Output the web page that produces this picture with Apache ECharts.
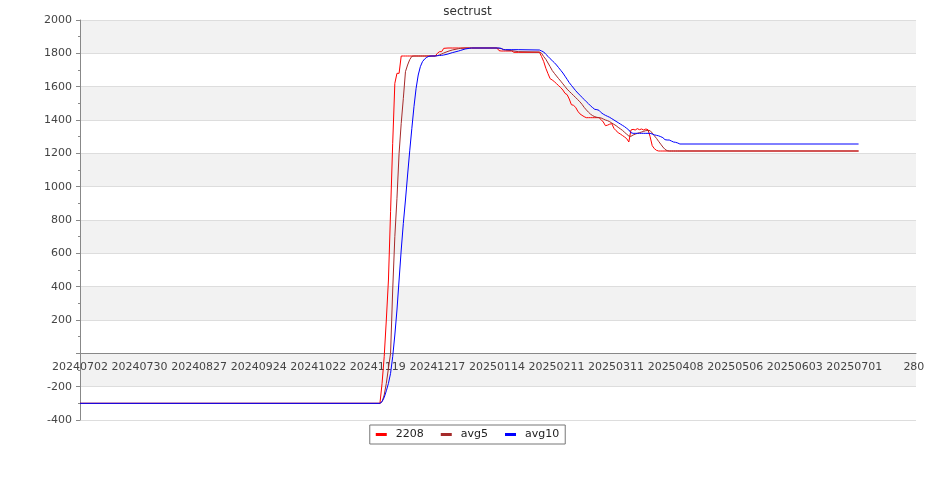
<!DOCTYPE html>
<html>
<head>
<meta charset="utf-8">
<script src="https://cdn.jsdelivr.net/npm/echarts@6/dist/echarts.min.js"></script>
<style>
html,body{margin:0;padding:0;background:#fff;}
#chart{width:935px;height:500px;}
</style>
</head>
<body>
<div id="chart"></div>
<script>
var title = 'sectrust';
var seriesNames = ['2208', 'avg5', 'avg10'];
var seriesColors = ['#ff0000', '#a52a2a', '#0000ff'];
var startDate = '20240702';
var xTickLabels = ['20240702','20240730','20240827','20240924','20241022','20241119','20241217','20250114','20250211','20250311','20250408','20250506','20250603','20250701','280'];

var dates = [
'20240702',
'20241120','20241121','20241122','20241123','20241124','20241125','20241126','20241127','20241128','20241129','20241130',
'20241201','20241202','20241203','20241204','20241205','20241206','20241207','20241208','20241209','20241210','20241211','20241212','20241213','20241214',
'20241216','20241217','20241218','20241219','20241220','20241222','20241224','20241227','20241228','20241230',
'20250101','20250102','20250114','20250115','20250116','20250117','20250118','20250121','20250122','20250124','20250203',
'20250204','20250205','20250206','20250207','20250208','20250209','20250210','20250211','20250212','20250213','20250214','20250215','20250216','20250217','20250218','20250219','20250220','20250221','20250222','20250223','20250224','20250225','20250226','20250227','20250228',
'20250301','20250302','20250303','20250304','20250305','20250306','20250307','20250308','20250309','20250310','20250311','20250312','20250313','20250314','20250315','20250316','20250317','20250318','20250319','20250320','20250321','20250322','20250323','20250324','20250325','20250326','20250327','20250328','20250329','20250330','20250331',
'20250401','20250402','20250403','20250404','20250405','20250406','20250407','20250408','20250409','20250410','20250411',
'20250703'
];

var values2208 = [
-300,
-300,-180,-20,200,440,850,1260,1620,1680,1680,1784,
1784,1784,1784,1784,1784,1784,1784,1784,1784,1784,1784,1784,1784,1784,
1784,1800,1810,1810,1830,1832,1832,1832,1832,1832,
1832,1832,1832,1816,1814,1814,1814,1814,1806,1806,1806,
1780,1750,1710,1678,1648,1640,1630,1618,1606,1594,1580,1560,1552,1526,1492,1488,1476,1453,1437,1428,1420,1414,1414,1414,1414,
1414,1414,1414,1402,1388,1366,1369,1375,1378,1350,1336,1324,1316,1307,1298,1288,1268,1340,1344,1340,1348,1342,1346,1340,1346,1342,1300,1246,1228,1218,1214,
1214,1214,1214,1214,1214,1214,1214,1214,1214,1214,1214,
1214
];

var valuesAvg5 = [
-300,
-300,-290,-250,-180,-90,0,380,700,930,1200,1380,
1530,1690,1730,1762,1782,1784,1784,1784,1784,1784,1784,1784,1784,1784,
1784,1786,1791,1796,1802,1812,1820,1828,1830,1832,
1832,1832,1832,1830,1828,1824,1820,1816,1814,1810,1808,
1800,1780,1764,1742,1720,1697,1680,1664,1648,1633,1617,1601,1585,1572,1560,1547,1535,1522,1509,1494,1476,1461,1447,1435,1426,
1420,1416,1414,1412,1406,1400,1396,1390,1382,1374,1366,1356,1347,1338,1326,1315,1304,1302,1310,1315,1320,1324,1328,1332,1336,1337,1336,1322,1305,1290,1272,
1255,1238,1224,1216,1214,1214,1214,1214,1214,1214,1214,
1214
];

var valuesAvg10 = [
-300,
-300,-290,-265,-225,-180,-120,-20,110,260,440,620,
780,920,1070,1215,1350,1480,1590,1670,1720,1750,1766,1776,1782,1784,
1784,1786,1787,1788,1790,1796,1804,1814,1818,1826,
1830,1832,1832,1832,1830,1822,1822,1822,1822,1822,1820,
1814,1808,1794,1782,1768,1756,1744,1730,1714,1698,1682,1663,1644,1624,1608,1592,1576,1562,1549,1536,1523,1510,1498,1485,1474,
1464,1462,1458,1444,1435,1428,1422,1416,1408,1400,1392,1384,1376,1368,1360,1350,1340,1324,1320,1320,1320,1320,1320,1320,1320,1320,1320,1316,1311,1308,1305,
1300,1294,1282,1280,1280,1274,1268,1266,1262,1256,1256,
1256
];

function dayIndex(s) {
  var t = Date.UTC(+s.slice(0,4), +s.slice(4,6) - 1, +s.slice(6,8));
  var t0 = Date.UTC(+startDate.slice(0,4), +startDate.slice(4,6) - 1, +startDate.slice(6,8));
  return Math.round((t - t0) / 86400000);
}

function pairs(vals) {
  return dates.map(function (d, i) { return [dayIndex(d), vals[i]]; });
}

var allValues = [values2208, valuesAvg5, valuesAvg10];
var font = 'DejaVu Sans';
var yMin = -400, yMax = 2000;
var gridTop = 20, gridBottom = 80, chartH = 500;
var plotH = chartH - gridTop - gridBottom;
var zeroOffset = -plotH * (0 - yMin) / (yMax - yMin);

var chart = echarts.init(document.getElementById('chart'), null, {renderer: 'canvas'});
chart.setOption({
  animation: false,
  backgroundColor: '#ffffff',
  title: {
    text: title, left: 'center', top: 1,
    textStyle: {fontFamily: font, fontSize: 12, fontWeight: 'normal', color: '#333'}
  },
  legend: {
    data: seriesNames,
    left: 'center', top: 425,
    icon: 'rect', itemWidth: 11, itemHeight: 3, itemGap: 17,
    padding: [4, 6, 4, 6],
    borderColor: '#777', borderWidth: 1, borderRadius: 0,
    textStyle: {fontFamily: font, fontSize: 11, color: '#222', padding: [0, 0, 0, 4]}
  },
  grid: {left: 80, right: 19, top: gridTop, bottom: gridBottom, containLabel: false},
  xAxis: {
    type: 'value', min: 0, max: 393, interval: 28,
    position: 'bottom', offset: zeroOffset,
    axisLine: {show: true, onZero: false, lineStyle: {color: '#888', width: 1}},
    axisTick: {show: false},
    splitLine: {show: false},
    axisLabel: {
      color: '#444', fontFamily: font, fontSize: 11, margin: 8, showMaxLabel: false,
      formatter: function (v) { return v % 28 === 0 ? (xTickLabels[v / 28] || '') : ''; }
    }
  },
  yAxis: {
    type: 'value', min: yMin, max: yMax, interval: 200,
    axisLine: {show: true, onZero: false, lineStyle: {color: '#888', width: 1}},
    axisTick: {show: true, length: 4, lineStyle: {color: '#888'}},
    minorTick: {show: true, splitNumber: 2, length: 2, lineStyle: {color: '#888'}},
    splitLine: {show: true, lineStyle: {color: '#dddddd', width: 1}},
    splitArea: {show: true, areaStyle: {color: ['#ffffff', '#f2f2f2']}},
    axisLabel: {
      color: '#444', fontFamily: font, fontSize: 11, margin: 8,
      formatter: function (v) { return v === 0 ? '' : String(v); }
    }
  },
  series: seriesNames.map(function (n, i) {
    return {
      name: n, type: 'line', data: pairs(allValues[i]),
      showSymbol: false, symbol: 'none',
      lineStyle: {color: seriesColors[i], width: 1},
      itemStyle: {color: seriesColors[i]}
    };
  })
});
</script>
</body>
</html>
